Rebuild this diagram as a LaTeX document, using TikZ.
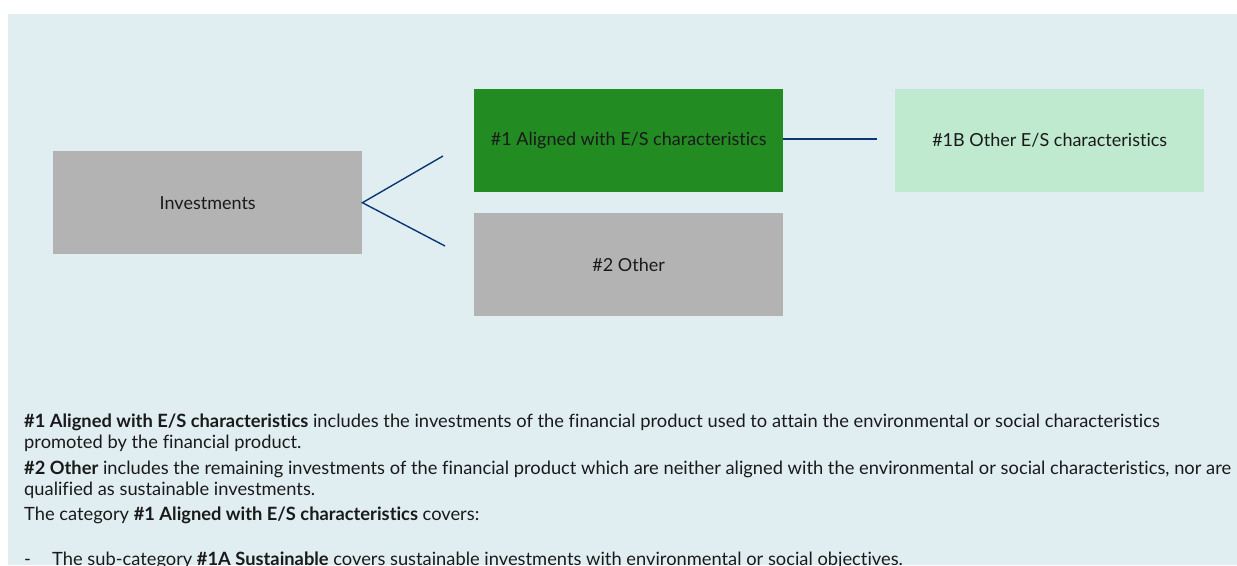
\documentclass[tikz,border=0pt]{standalone}
\usepackage{fontspec}
\setmainfont{Lato}[Ligatures=NoCommon]
\definecolor{bgblue}{HTML}{E0EEF2}
\definecolor{boxgrey}{HTML}{B3B3B3}
\definecolor{darkgreen}{HTML}{228B22}
\definecolor{lightgreen}{HTML}{C0EAD0}
\definecolor{navy}{HTML}{0A3673}
\definecolor{txt}{HTML}{1A1A1A}
\begin{document}
\begin{tikzpicture}[x=1pt,y=-1pt,
  box/.style={anchor=north west,minimum width=309pt,minimum height=103pt,inner sep=0pt,font=\fontsize{18}{20}\selectfont,text=txt},
  conn/.style={draw=navy,line width=1.4pt},
  para/.style={anchor=base west,inner sep=0pt,align=left,font=\fontsize{18.3}{21}\selectfont,text=txt}]
\useasboundingbox (0,0) rectangle (1237,565);
\clip (0,0) rectangle (1237,565);
\fill[bgblue] (8,14) rectangle (1237,565);
\node[box,fill=boxgrey] (inv) at (53,151) {Investments};
\node[box,fill=darkgreen] (al) at (474,89) {\#1 Aligned with E/S characteristics};
\node[box,fill=boxgrey] (oth) at (474,213) {\#2 Other};
\node[box,fill=lightgreen] (oes) at (895,89) {\#1B Other E/S characteristics};
\coordinate (t1) at (443,156);
\coordinate (t2) at (445,246);
\coordinate (h1) at (877,139);
\draw[conn] (t1) -- (inv.east) -- (t2);
\draw[conn] (al.east |- h1) -- (h1);
\node[para] (p1) at (24,448) {\textbf{\#1 Aligned with E/S characteristics} includes the investments of the financial product used to attain the environmental or social characteristics\\promoted by the financial product.};
\node[para] (p2) at (24,495) {\textbf{\#2 Other} includes the remaining investments of the financial product which are neither aligned with the environmental or social characteristics, nor are\\qualified as sustainable investments.};
\node[para] (p3) at (24,520) {The category \textbf{\#1 Aligned with E/S characteristics} covers:};
\node[para] (p4d) at (24,565) {-};
\node[para] (p4) at (52,565) {The sub-category \textbf{\#1A Sustainable} covers sustainable investments with environmental or social objectives.};
\end{tikzpicture}
\end{document}
